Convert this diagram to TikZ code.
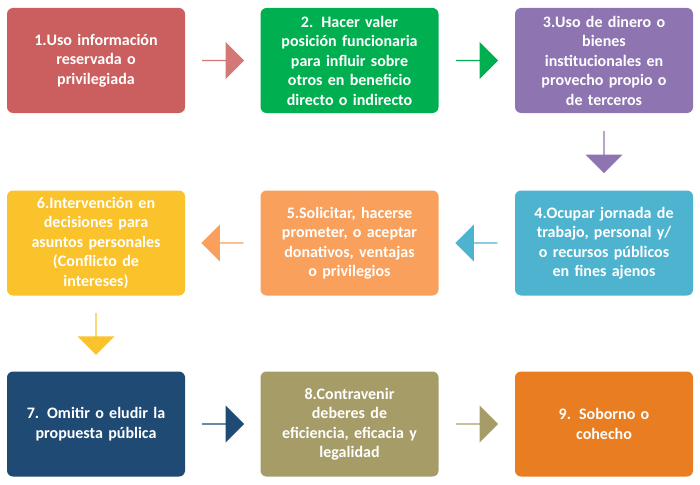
\documentclass[tikz,border=0pt]{standalone}
\usepackage{fontspec}
\setmainfont{Carlito}
\usetikzlibrary{shapes.arrows,calc}
\definecolor{cA}{HTML}{CB5F5F}
\definecolor{cB}{HTML}{00B050}
\definecolor{cC}{HTML}{8E75B2}
\definecolor{cD}{HTML}{4EB3CF}
\definecolor{cE}{HTML}{F8A05C}
\definecolor{cF}{HTML}{FAC22B}
\definecolor{cG}{HTML}{1F4A73}
\definecolor{cH}{HTML}{A59C68}
\definecolor{cI}{HTML}{E87D22}
\begin{document}
\begin{tikzpicture}[x=1pt,y=-1pt,
  box/.style={rounded corners=6pt,minimum width=178pt,minimum height=105pt,
    text width=168pt,align=center,text=white,font=\bfseries\fontsize{16}{19.5}\selectfont,inner sep=0pt},
  blk/.style={single arrow,minimum height=42pt,minimum width=37pt,
    single arrow head extend=6pt,inner sep=0pt}]
\useasboundingbox (0,0) rectangle (700,484);
% boxes
\node[box,fill=cA] (b1) at (96,60.5) {1.Uso información\\reservada o\\privilegiada};
\node[box,fill=cB] (b2) at (349.5,60.5) {2. Hacer valer\\posición funcionaria\\para influir sobre\\otros en beneficio\\directo o indirecto};
\node[box,fill=cC] (b3) at (604,60.5) {3.Uso de dinero o\\bienes\\institucionales en\\provecho propio o\\de terceros};
\node[box,fill=cD] (b4) at (604,243) {4.Ocupar jornada de\\trabajo, personal y/\\o recursos públicos\\en fines ajenos};
\node[box,fill=cE] (b5) at (349.5,243) {5.Solicitar, hacerse\\prometer, o aceptar\\donativos, ventajas\\o privilegios};
\node[box,fill=cF] (b6) at (96,243) {6.Intervención en\\decisiones para\\asuntos personales\\(Conflicto de\\intereses)};
\node[box,fill=cG] (b7) at (96,424) {7. Omitir o eludir la\\propuesta pública};
\node[box,fill=cH] (b8) at (349.5,424) {8.Contravenir\\deberes de\\eficiencia, eficacia y\\legalidad};
\node[box,fill=cI] (b9) at (604,424) {9. Soborno o\\cohecho};
% arrows
\node[blk,fill=cA!85!white] (a1) at ($(b1.east)!0.5!(b2.west)$) {};
\node[blk,fill=cB] (a2) at ($(b2.east)!0.5!(b3.west)$) {};
\node[blk,fill=cC,shape border rotate=270] (a3) at ($(b3.south)!0.5!(b4.north)$) {};
\node[blk,fill=cD,shape border rotate=180] (a4) at ($(b4.west)!0.5!(b5.east)$) {};
\node[blk,fill=cE,shape border rotate=180] (a5) at ($(b5.west)!0.5!(b6.east)$) {};
\node[blk,fill=cF,shape border rotate=270] (a6) at ($(b6.south)!0.5!(b7.north)$) {};
\node[blk,fill=cG] (a7) at ($(b7.east)!0.5!(b8.west)$) {};
\node[blk,fill=cH] (a8) at ($(b8.east)!0.5!(b9.west)$) {};
\end{tikzpicture}
\end{document}
